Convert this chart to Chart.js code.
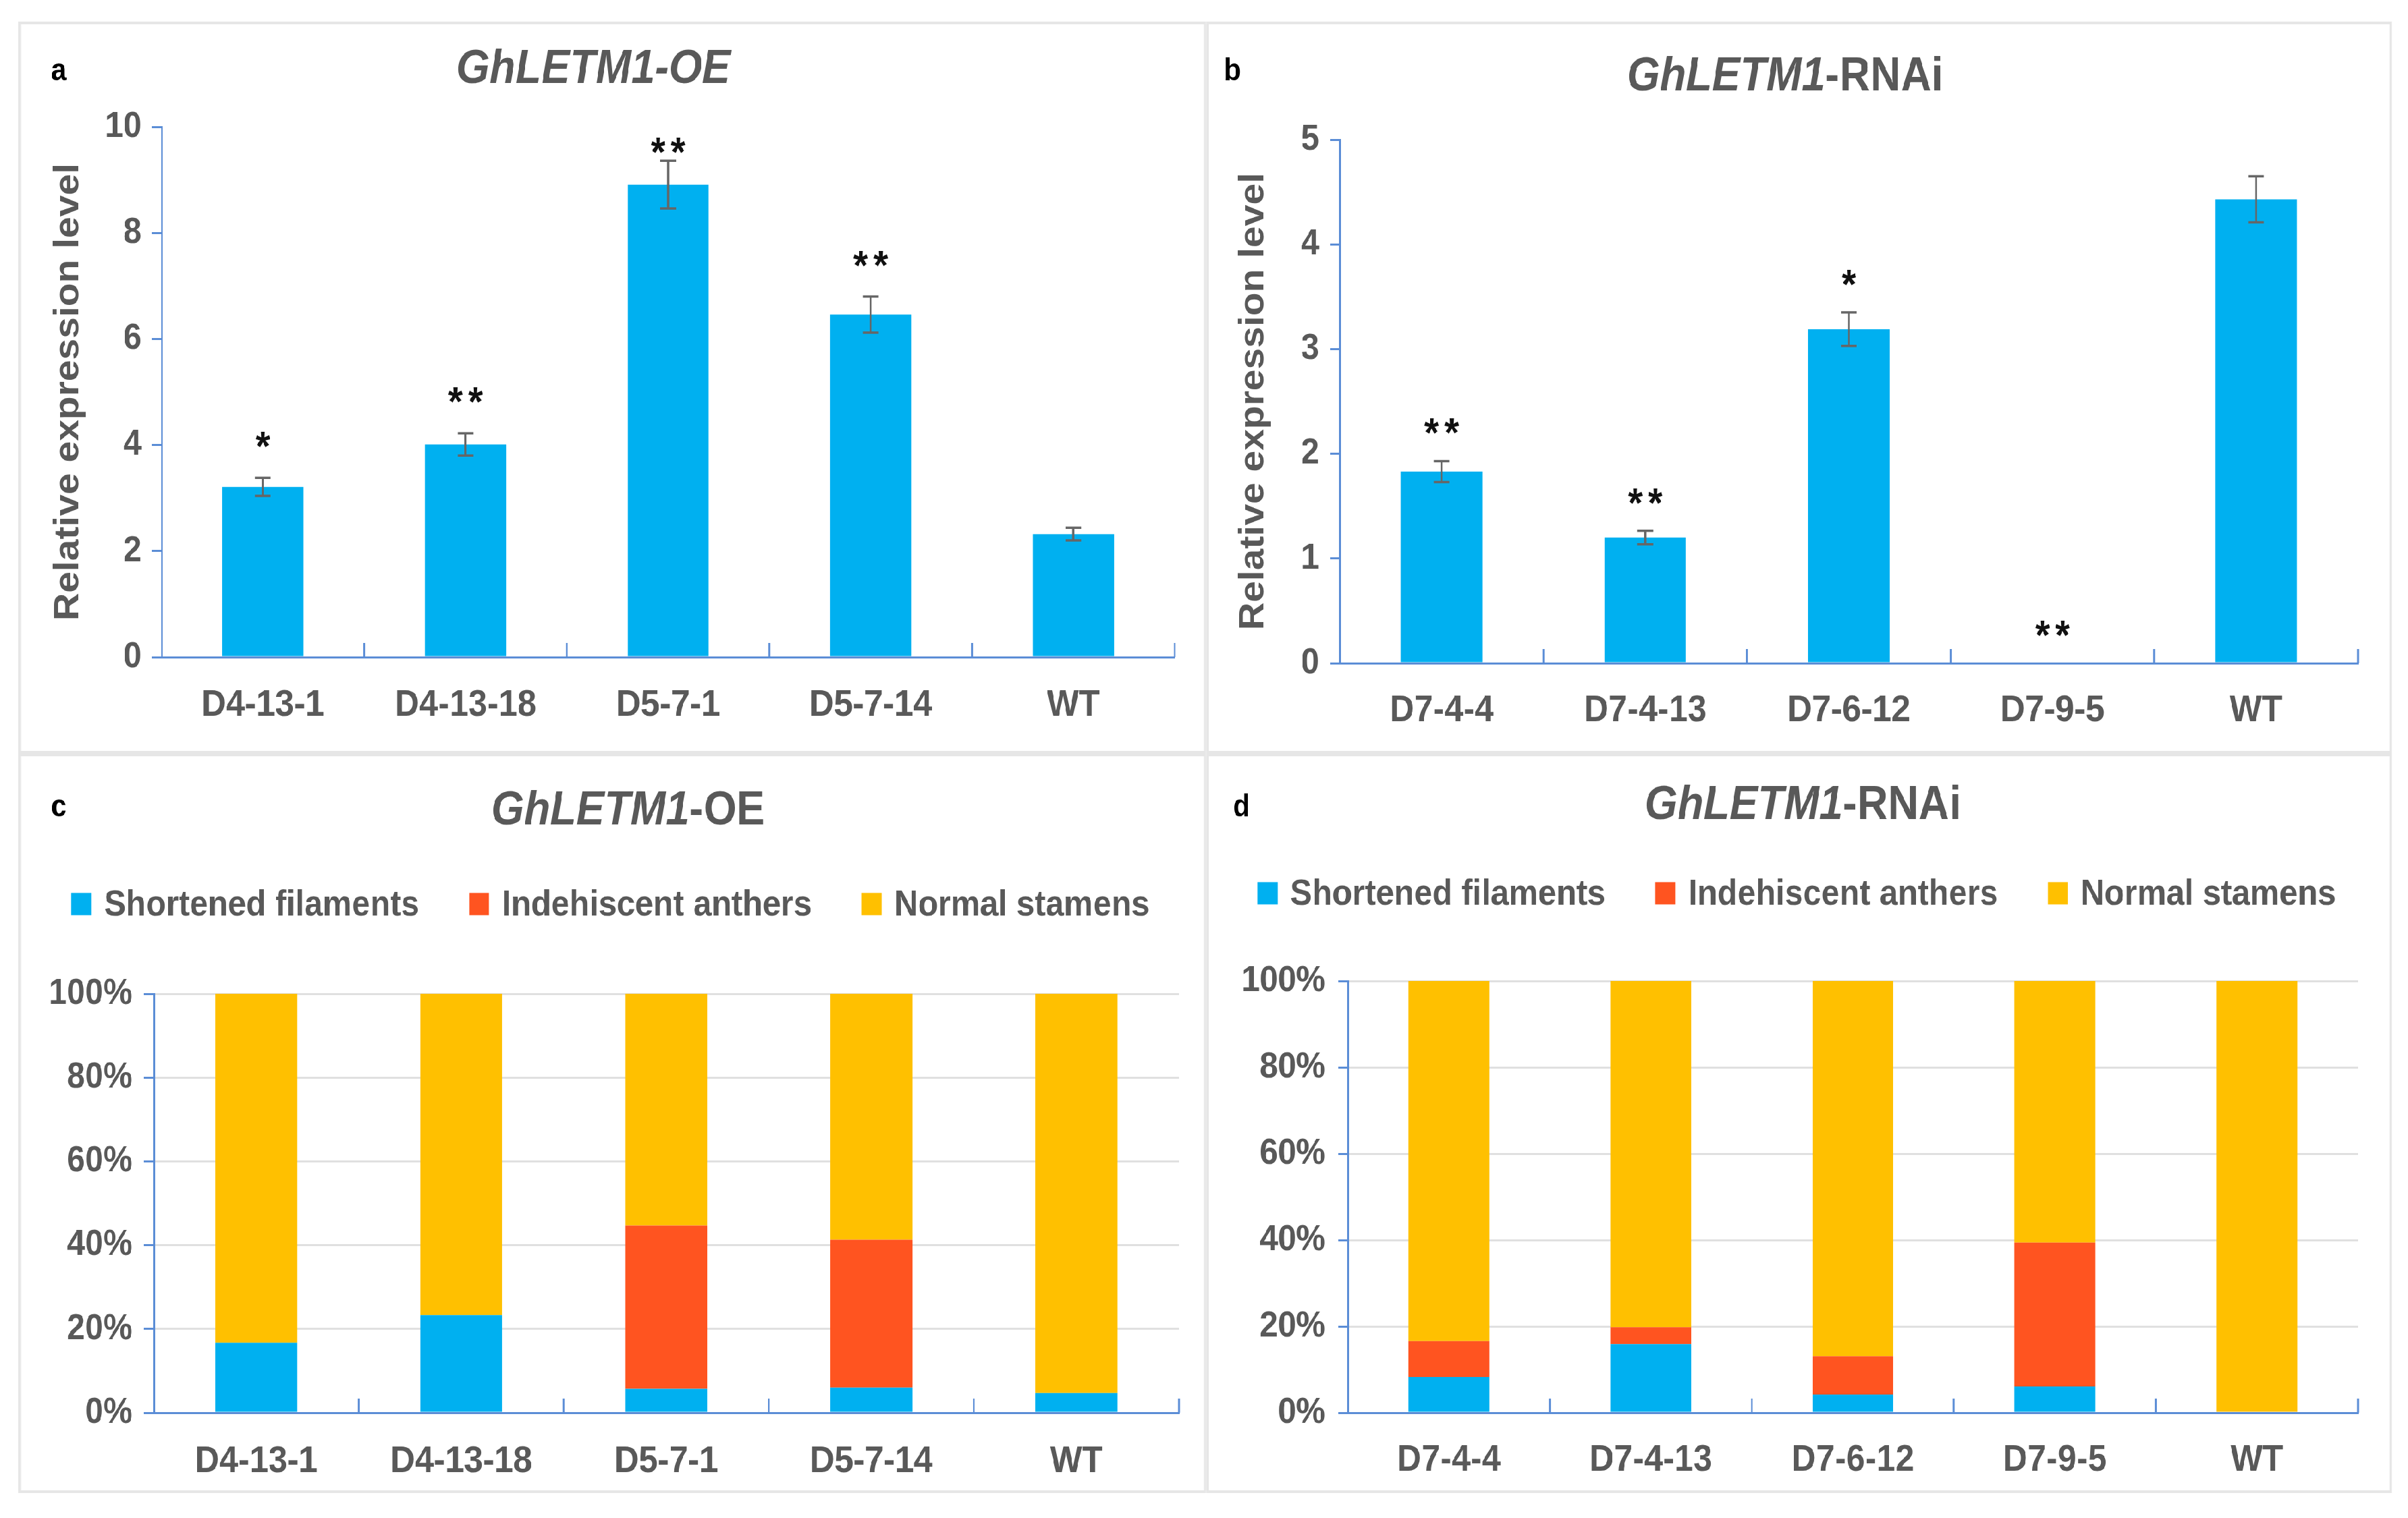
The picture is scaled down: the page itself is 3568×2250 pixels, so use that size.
<!DOCTYPE html>
<html>
<head>
<meta charset="utf-8">
<script src="https://cdn.jsdelivr.net/npm/chart.js@4.4.1/dist/chart.umd.min.js"></script>
<style>
html, body { margin: 0; padding: 0; background: #fff; }
body { width: 3568px; height: 2250px; overflow: hidden; position: relative; }
/* the original figure is squeezed horizontally, so the whole sheet is drawn wider and squeezed back */
#stage { position: absolute; left: 0; top: 0; width: 3965px; height: 2250px; transform: scaleX(0.9); transform-origin: 0 0; }
.panel { position: absolute; border: 4px solid #e6e6e6; box-sizing: border-box; background: #fff; }
.panel canvas { position: absolute; left: 0; top: 0; }
</style>
</head>
<body>
<div id="stage">
  <div class="panel" style="left:30px;top:32px;width:1956px;height:1085px"><canvas id="chartA" width="1948" height="1077"></canvas></div>
  <div class="panel" style="left:1986px;top:32px;width:1952px;height:1085px"><canvas id="chartB" width="1944" height="1077"></canvas></div>
  <div class="panel" style="left:30px;top:1117px;width:1956px;height:1096px"><canvas id="chartC" width="1948" height="1088"></canvas></div>
  <div class="panel" style="left:1986px;top:1117px;width:1952px;height:1096px"><canvas id="chartD" width="1944" height="1088"></canvas></div>
</div>
<script>
// ---- data ----
const oeLines = ["D4-13-1", "D4-13-18", "D5-7-1", "D5-7-14", "WT"]
const rnaiLines = ["D7-4-4", "D7-4-13", "D7-6-12", "D7-9-5", "WT"]

const oeExpr = [3.21, 4.01, 8.91, 6.46, 2.32]
const oeErr = [0.17, 0.21, 0.45, 0.34, 0.12]
const oeSig = ["*", "**", "**", "**", ""]

const rnaiExpr = [1.83, 1.20, 3.19, 0, 4.43]
const rnaiErr = [0.10, 0.065, 0.16, 0, 0.22]
const rnaiSig = ["**", "**", "*", "**", ""]

const oeYTicks = [0, 2, 4, 6, 8, 10]
const rnaiYTicks = [0, 1, 2, 3, 4, 5]
const pctTicks = [0, 20, 40, 60, 80, 100]

const phenoNames = ["Shortened filaments", "Indehiscent anthers", "Normal stamens"]
const oeShort = [16.7, 23.3, 5.7, 6.0, 4.7]
const oeIndeh = [0, 0, 39.0, 35.3, 0]
const oeNormal = [83.3, 76.7, 55.3, 58.7, 95.3]
const rnaiShort = [8.3, 15.9, 4.2, 6.1, 0]
const rnaiIndeh = [8.3, 3.9, 8.9, 33.3, 0]
const rnaiNormal = [83.4, 80.2, 86.9, 60.6, 100]

// ---- look ----
const FONT = '"Liberation Sans", Arial, sans-serif'
const AXIS = "#5b8dd6"
const GREY = "#595959"
const BLUE = "#00b0f0"
const RED = "#ff5420"
const YELLOW = "#ffc000"

const deco = {
    id: "deco",
    afterDatasetsDraw(chart, args, o) {
        const ctx = chart.ctx
        const area = chart.chartArea
        const xs = chart.scales.x
        const ys = chart.scales.y
        const n = chart.data.labels.length
        const cw = (area.right - area.left) / n
        ctx.save()

        // small upward ticks between the categories
        ctx.strokeStyle = AXIS
        ctx.lineWidth = 3
        for (let i = 1; i <= n; i++) {
            const px = area.left + i * cw
            ctx.beginPath()
            ctx.moveTo(px, area.bottom)
            ctx.lineTo(px, area.bottom - 21)
            ctx.stroke()
        }

        // error bars and significance stars
        if (o.values) {
            ctx.strokeStyle = "#666666"
            ctx.lineWidth = 3.5
            o.values.forEach((v, i) => {
                const e = o.errors[i]
                const px = xs.getPixelForValue(i)
                const top = ys.getPixelForValue(v + e)
                const bot = ys.getPixelForValue(v - e)
                if (e > 0) {
                    ctx.beginPath()
                    ctx.moveTo(px, top); ctx.lineTo(px, bot)
                    ctx.moveTo(px - 13, top); ctx.lineTo(px + 13, top)
                    ctx.moveTo(px - 13, bot); ctx.lineTo(px + 13, bot)
                    ctx.stroke()
                }
                const s = o.sig[i]
                if (s) {
                    const cy = Math.max(top - o.starGap, area.top + 22)
                    ctx.fillStyle = "#111"
                    ctx.font = "bold 62px " + FONT
                    ctx.textAlign = "center"
                    ctx.textBaseline = "alphabetic"
                    for (let k = 0; k < s.length; k++) {
                        ctx.fillText("*", px + (k - (s.length - 1) / 2) * 33, cy + 36)
                    }
                }
            })
        }

        // panel letter
        ctx.fillStyle = "#000"
        ctx.font = "bold 46px " + FONT
        ctx.textAlign = "left"
        ctx.textBaseline = "alphabetic"
        ctx.fillText(o.letter, o.letterX, o.letterY)

        // title: gene name in italics
        const f1 = "italic bold 70px " + FONT
        const f2 = (o.suffixItalic ? "italic " : "") + "bold 70px " + FONT
        ctx.font = f1
        const w1 = ctx.measureText(o.gene).width
        ctx.font = f2
        const w2 = ctx.measureText(o.suffix).width
        let tx = o.titleX - (w1 + w2) / 2
        ctx.fillStyle = GREY
        ctx.textBaseline = "middle"
        ctx.font = f1
        ctx.fillText(o.gene, tx, o.titleY)
        ctx.font = f2
        ctx.fillText(o.suffix, tx + w1, o.titleY)

        // legend
        if (o.legendY) {
            ctx.font = "bold 54px " + FONT
            const items = chart.data.datasets.map(d => ({ label: d.label, color: d.backgroundColor, w: 33 + 21 + ctx.measureText(d.label).width }))
            const total = items.reduce((s, it) => s + it.w, 0) + 82 * (items.length - 1)
            let lx = o.legendX - total / 2
            items.forEach(it => {
                ctx.fillStyle = it.color
                ctx.fillRect(lx, o.legendY - 16.5, 33, 33)
                ctx.fillStyle = GREY
                ctx.fillText(it.label, lx + 54, o.legendY + 2)
                lx += it.w + 82
            })
        }
        ctx.restore()
    }
}

function makeChart(id, cfg) {
    const yTicks = cfg.yTicks
    return new Chart(document.getElementById(id), {
        type: "bar",
        data: { labels: cfg.labels, datasets: cfg.datasets },
        options: {
            responsive: false,
            animation: false,
            devicePixelRatio: 1,
            events: [],
            layout: { padding: { left: 0, right: cfg.padRight, top: cfg.padTop, bottom: 0 } },
            scales: {
                x: {
                    stacked: cfg.stacked,
                    grid: { display: false },
                    border: { color: AXIS, width: 3 },
                    ticks: { color: GREY, font: { family: FONT, size: 56, weight: "bold" }, padding: cfg.xPad, maxRotation: 0, autoSkip: false },
                    afterFit: s => { s.height = cfg.xHeight }
                },
                y: {
                    stacked: cfg.stacked,
                    min: yTicks[0],
                    max: yTicks[yTicks.length - 1],
                    grid: { drawOnChartArea: cfg.gridLines, color: "#e0e0e0", lineWidth: 3, tickColor: AXIS, tickWidth: 3, tickLength: 16 },
                    border: { color: AXIS, width: 3 },
                    ticks: {
                        stepSize: yTicks[1] - yTicks[0],
                        color: GREY,
                        font: { family: FONT, size: 54, weight: "bold" },
                        padding: cfg.yPad,
                        callback: v => cfg.pct ? v + "%" : v
                    },
                    title: cfg.yTitle ? {
                        display: true, text: "Relative expression level", color: GREY,
                        font: { family: FONT, size: 57, weight: "bold", lineHeight: 1.2 },
                        padding: { top: cfg.yTitlePad, bottom: 0 }
                    } : { display: false },
                    afterFit: s => { s.width = cfg.yWidth }
                }
            },
            plugins: {
                legend: { display: false },
                tooltip: { enabled: false },
                deco: cfg.deco
            }
        },
        plugins: [deco]
    })
}

function barSet(values) {
    return [{ label: "Relative expression", data: values, backgroundColor: BLUE, barPercentage: 0.4, categoryPercentage: 1 }]
}
function stackSets(a, b, c) {
    return [a, b, c].map((vals, i) => ({
        label: phenoNames[i], data: vals, backgroundColor: [BLUE, RED, YELLOW][i],
        barPercentage: 0.4, categoryPercentage: 1
    }))
}

makeChart("chartA", {
    labels: oeLines, datasets: barSet(oeExpr), stacked: false, yTicks: oeYTicks, pct: false,
    padRight: 48, padTop: 152, xHeight: 139, yWidth: 232, xPad: 30, yPad: 17, yTitle: true, yTitlePad: 45, gridLines: false,
    deco: { letter: "a", letterX: 50, letterY: 83, gene: "GhLETM1", suffix: "-OE", suffixItalic: true, titleX: 943, titleY: 68,
            values: oeExpr, errors: oeErr, sig: oeSig, starGap: 62 }
})

makeChart("chartB", {
    labels: rnaiLines, datasets: barSet(rnaiExpr), stacked: false, yTicks: rnaiYTicks, pct: false,
    padRight: 52, padTop: 171, xHeight: 130, yWidth: 216, xPad: 29, yPad: 18, yTitle: true, yTitlePad: 40, gridLines: false,
    deco: { letter: "b", letterX: 25, letterY: 83, gene: "GhLETM1", suffix: "-RNAi", suffixItalic: false, titleX: 949, titleY: 79,
            values: rnaiExpr, errors: rnaiErr, sig: rnaiSig, starGap: 57 }
})

makeChart("chartC", {
    labels: oeLines, datasets: stackSets(oeShort, oeIndeh, oeNormal), stacked: true, yTicks: pctTicks, pct: true,
    padRight: 41, padTop: 352, xHeight: 115, yWidth: 219, xPad: 31, yPad: 19, yTitle: false, gridLines: true,
    deco: { letter: "c", letterX: 50, letterY: 89, gene: "GhLETM1", suffix: "-OE", suffixItalic: false, titleX: 1000, titleY: 82,
            legendX: 971, legendY: 219 }
})

makeChart("chartD", {
    labels: rnaiLines, datasets: stackSets(rnaiShort, rnaiIndeh, rnaiNormal), stacked: true, yTicks: pctTicks, pct: true,
    padRight: 52, padTop: 333, xHeight: 115, yWidth: 229, xPad: 29, yPad: 21, yTitle: false, gridLines: true,
    deco: { letter: "d", letterX: 40, letterY: 89, gene: "GhLETM1", suffix: "-RNAi", suffixItalic: false, titleX: 978, titleY: 74,
            legendX: 968, legendY: 203 }
})
</script>
</body>
</html>
